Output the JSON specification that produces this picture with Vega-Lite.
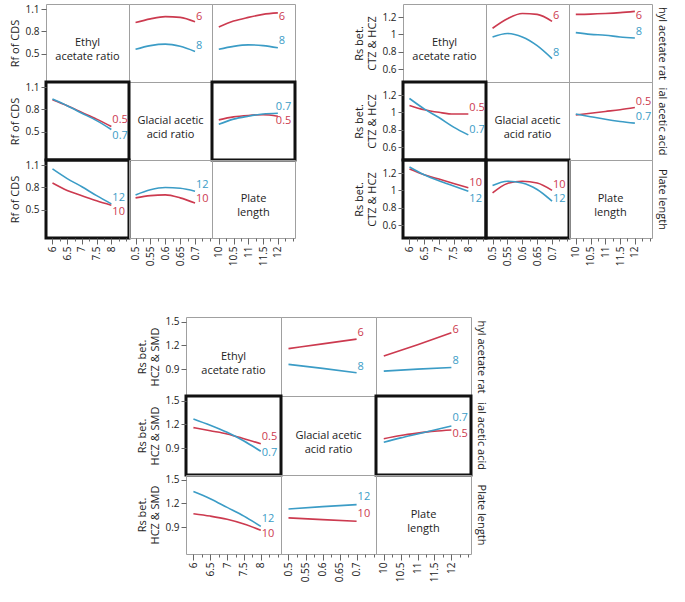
{
"$schema": "https://vega.github.io/schema/vega-lite/v6.json",
"background": "white",
"padding": {"left": 8, "top": 3, "right": 0, "bottom": 0},
"datasets": {
"lines": [
{"m":"A","r":1,"c":2,"lv":"1","x":0.5,"y":0.92},{"m":"A","r":1,"c":2,"lv":"1","x":0.55,"y":0.97},{"m":"A","r":1,"c":2,"lv":"1","x":0.6,"y":1.0},{"m":"A","r":1,"c":2,"lv":"1","x":0.65,"y":0.99},{"m":"A","r":1,"c":2,"lv":"1","x":0.7,"y":0.93},
{"m":"A","r":1,"c":2,"lv":"2","x":0.5,"y":0.56},{"m":"A","r":1,"c":2,"lv":"2","x":0.55,"y":0.61},{"m":"A","r":1,"c":2,"lv":"2","x":0.6,"y":0.63},{"m":"A","r":1,"c":2,"lv":"2","x":0.65,"y":0.6},{"m":"A","r":1,"c":2,"lv":"2","x":0.7,"y":0.53},
{"m":"A","r":1,"c":3,"lv":"1","x":10,"y":0.86},{"m":"A","r":1,"c":3,"lv":"1","x":10.5,"y":0.94},{"m":"A","r":1,"c":3,"lv":"1","x":11,"y":0.99},{"m":"A","r":1,"c":3,"lv":"1","x":11.5,"y":1.03},{"m":"A","r":1,"c":3,"lv":"1","x":12,"y":1.05},
{"m":"A","r":1,"c":3,"lv":"2","x":10,"y":0.56},{"m":"A","r":1,"c":3,"lv":"2","x":10.5,"y":0.6},{"m":"A","r":1,"c":3,"lv":"2","x":11,"y":0.62},{"m":"A","r":1,"c":3,"lv":"2","x":11.5,"y":0.61},{"m":"A","r":1,"c":3,"lv":"2","x":12,"y":0.58},
{"m":"A","r":2,"c":1,"lv":"1","x":6,"y":0.93},{"m":"A","r":2,"c":1,"lv":"1","x":6.5,"y":0.85},{"m":"A","r":2,"c":1,"lv":"1","x":7,"y":0.76},{"m":"A","r":2,"c":1,"lv":"1","x":7.5,"y":0.67},{"m":"A","r":2,"c":1,"lv":"1","x":8,"y":0.57},
{"m":"A","r":2,"c":1,"lv":"2","x":6,"y":0.94},{"m":"A","r":2,"c":1,"lv":"2","x":6.5,"y":0.85},{"m":"A","r":2,"c":1,"lv":"2","x":7,"y":0.75},{"m":"A","r":2,"c":1,"lv":"2","x":7.5,"y":0.65},{"m":"A","r":2,"c":1,"lv":"2","x":8,"y":0.53},
{"m":"A","r":2,"c":3,"lv":"1","x":10,"y":0.66},{"m":"A","r":2,"c":3,"lv":"1","x":10.5,"y":0.7},{"m":"A","r":2,"c":3,"lv":"1","x":11,"y":0.72},{"m":"A","r":2,"c":3,"lv":"1","x":11.5,"y":0.73},{"m":"A","r":2,"c":3,"lv":"1","x":12,"y":0.71},
{"m":"A","r":2,"c":3,"lv":"2","x":10,"y":0.6},{"m":"A","r":2,"c":3,"lv":"2","x":10.5,"y":0.67},{"m":"A","r":2,"c":3,"lv":"2","x":11,"y":0.71},{"m":"A","r":2,"c":3,"lv":"2","x":11.5,"y":0.74},{"m":"A","r":2,"c":3,"lv":"2","x":12,"y":0.75},
{"m":"A","r":3,"c":1,"lv":"1","x":6,"y":0.86},{"m":"A","r":3,"c":1,"lv":"1","x":6.5,"y":0.76},{"m":"A","r":3,"c":1,"lv":"1","x":7,"y":0.69},{"m":"A","r":3,"c":1,"lv":"1","x":7.5,"y":0.62},{"m":"A","r":3,"c":1,"lv":"1","x":8,"y":0.56},
{"m":"A","r":3,"c":1,"lv":"2","x":6,"y":1.05},{"m":"A","r":3,"c":1,"lv":"2","x":6.5,"y":0.92},{"m":"A","r":3,"c":1,"lv":"2","x":7,"y":0.81},{"m":"A","r":3,"c":1,"lv":"2","x":7.5,"y":0.69},{"m":"A","r":3,"c":1,"lv":"2","x":8,"y":0.58},
{"m":"A","r":3,"c":2,"lv":"1","x":0.5,"y":0.66},{"m":"A","r":3,"c":2,"lv":"1","x":0.55,"y":0.69},{"m":"A","r":3,"c":2,"lv":"1","x":0.6,"y":0.7},{"m":"A","r":3,"c":2,"lv":"1","x":0.65,"y":0.66},{"m":"A","r":3,"c":2,"lv":"1","x":0.7,"y":0.59},
{"m":"A","r":3,"c":2,"lv":"2","x":0.5,"y":0.7},{"m":"A","r":3,"c":2,"lv":"2","x":0.55,"y":0.77},{"m":"A","r":3,"c":2,"lv":"2","x":0.6,"y":0.8},{"m":"A","r":3,"c":2,"lv":"2","x":0.65,"y":0.79},{"m":"A","r":3,"c":2,"lv":"2","x":0.7,"y":0.75},
{"m":"B","r":1,"c":2,"lv":"1","x":0.5,"y":1.07},{"m":"B","r":1,"c":2,"lv":"1","x":0.55,"y":1.18},{"m":"B","r":1,"c":2,"lv":"1","x":0.6,"y":1.24},{"m":"B","r":1,"c":2,"lv":"1","x":0.65,"y":1.23},{"m":"B","r":1,"c":2,"lv":"1","x":0.7,"y":1.15},
{"m":"B","r":1,"c":2,"lv":"2","x":0.5,"y":0.97},{"m":"B","r":1,"c":2,"lv":"2","x":0.55,"y":1.01},{"m":"B","r":1,"c":2,"lv":"2","x":0.6,"y":0.97},{"m":"B","r":1,"c":2,"lv":"2","x":0.65,"y":0.87},{"m":"B","r":1,"c":2,"lv":"2","x":0.7,"y":0.72},
{"m":"B","r":1,"c":3,"lv":"1","x":10,"y":1.23},{"m":"B","r":1,"c":3,"lv":"1","x":10.5,"y":1.233},{"m":"B","r":1,"c":3,"lv":"1","x":11,"y":1.24},{"m":"B","r":1,"c":3,"lv":"1","x":11.5,"y":1.25},{"m":"B","r":1,"c":3,"lv":"1","x":12,"y":1.265},
{"m":"B","r":1,"c":3,"lv":"2","x":10,"y":1.02},{"m":"B","r":1,"c":3,"lv":"2","x":10.5,"y":1.0},{"m":"B","r":1,"c":3,"lv":"2","x":11,"y":0.99},{"m":"B","r":1,"c":3,"lv":"2","x":11.5,"y":0.97},{"m":"B","r":1,"c":3,"lv":"2","x":12,"y":0.957},
{"m":"B","r":2,"c":1,"lv":"1","x":6,"y":1.08},{"m":"B","r":2,"c":1,"lv":"1","x":6.5,"y":1.03},{"m":"B","r":2,"c":1,"lv":"1","x":7,"y":1.0},{"m":"B","r":2,"c":1,"lv":"1","x":7.5,"y":0.98},{"m":"B","r":2,"c":1,"lv":"1","x":8,"y":0.98},
{"m":"B","r":2,"c":1,"lv":"2","x":6,"y":1.16},{"m":"B","r":2,"c":1,"lv":"2","x":6.5,"y":1.04},{"m":"B","r":2,"c":1,"lv":"2","x":7,"y":0.94},{"m":"B","r":2,"c":1,"lv":"2","x":7.5,"y":0.83},{"m":"B","r":2,"c":1,"lv":"2","x":8,"y":0.74},
{"m":"B","r":2,"c":3,"lv":"1","x":10,"y":0.97},{"m":"B","r":2,"c":3,"lv":"1","x":10.5,"y":0.99},{"m":"B","r":2,"c":3,"lv":"1","x":11,"y":1.01},{"m":"B","r":2,"c":3,"lv":"1","x":11.5,"y":1.03},{"m":"B","r":2,"c":3,"lv":"1","x":12,"y":1.055},
{"m":"B","r":2,"c":3,"lv":"2","x":10,"y":0.98},{"m":"B","r":2,"c":3,"lv":"2","x":10.5,"y":0.95},{"m":"B","r":2,"c":3,"lv":"2","x":11,"y":0.92},{"m":"B","r":2,"c":3,"lv":"2","x":11.5,"y":0.895},{"m":"B","r":2,"c":3,"lv":"2","x":12,"y":0.875},
{"m":"B","r":3,"c":1,"lv":"1","x":6,"y":1.245},{"m":"B","r":3,"c":1,"lv":"1","x":6.5,"y":1.18},{"m":"B","r":3,"c":1,"lv":"1","x":7,"y":1.13},{"m":"B","r":3,"c":1,"lv":"1","x":7.5,"y":1.08},{"m":"B","r":3,"c":1,"lv":"1","x":8,"y":1.03},
{"m":"B","r":3,"c":1,"lv":"2","x":6,"y":1.27},{"m":"B","r":3,"c":1,"lv":"2","x":6.5,"y":1.18},{"m":"B","r":3,"c":1,"lv":"2","x":7,"y":1.11},{"m":"B","r":3,"c":1,"lv":"2","x":7.5,"y":1.05},{"m":"B","r":3,"c":1,"lv":"2","x":8,"y":0.99},
{"m":"B","r":3,"c":2,"lv":"1","x":0.5,"y":0.97},{"m":"B","r":3,"c":2,"lv":"1","x":0.55,"y":1.08},{"m":"B","r":3,"c":2,"lv":"1","x":0.6,"y":1.105},{"m":"B","r":3,"c":2,"lv":"1","x":0.65,"y":1.085},{"m":"B","r":3,"c":2,"lv":"1","x":0.7,"y":1.0},
{"m":"B","r":3,"c":2,"lv":"2","x":0.5,"y":1.055},{"m":"B","r":3,"c":2,"lv":"2","x":0.55,"y":1.105},{"m":"B","r":3,"c":2,"lv":"2","x":0.6,"y":1.085},{"m":"B","r":3,"c":2,"lv":"2","x":0.65,"y":1.01},{"m":"B","r":3,"c":2,"lv":"2","x":0.7,"y":0.875},
{"m":"C","r":1,"c":2,"lv":"1","x":0.5,"y":1.16},{"m":"C","r":1,"c":2,"lv":"1","x":0.6,"y":1.22},{"m":"C","r":1,"c":2,"lv":"1","x":0.7,"y":1.28},
{"m":"C","r":1,"c":2,"lv":"2","x":0.5,"y":0.96},{"m":"C","r":1,"c":2,"lv":"2","x":0.6,"y":0.91},{"m":"C","r":1,"c":2,"lv":"2","x":0.7,"y":0.855},
{"m":"C","r":1,"c":3,"lv":"1","x":10,"y":1.065},{"m":"C","r":1,"c":3,"lv":"1","x":11,"y":1.21},{"m":"C","r":1,"c":3,"lv":"1","x":12,"y":1.36},
{"m":"C","r":1,"c":3,"lv":"2","x":10,"y":0.875},{"m":"C","r":1,"c":3,"lv":"2","x":11,"y":0.9},{"m":"C","r":1,"c":3,"lv":"2","x":12,"y":0.92},
{"m":"C","r":2,"c":1,"lv":"1","x":6,"y":1.16},{"m":"C","r":2,"c":1,"lv":"1","x":6.5,"y":1.12},{"m":"C","r":2,"c":1,"lv":"1","x":7,"y":1.08},{"m":"C","r":2,"c":1,"lv":"1","x":7.5,"y":1.02},{"m":"C","r":2,"c":1,"lv":"1","x":8,"y":0.955},
{"m":"C","r":2,"c":1,"lv":"2","x":6,"y":1.27},{"m":"C","r":2,"c":1,"lv":"2","x":6.5,"y":1.19},{"m":"C","r":2,"c":1,"lv":"2","x":7,"y":1.1},{"m":"C","r":2,"c":1,"lv":"2","x":7.5,"y":0.99},{"m":"C","r":2,"c":1,"lv":"2","x":8,"y":0.86},
{"m":"C","r":2,"c":3,"lv":"1","x":10,"y":1.02},{"m":"C","r":2,"c":3,"lv":"1","x":10.5,"y":1.06},{"m":"C","r":2,"c":3,"lv":"1","x":11,"y":1.09},{"m":"C","r":2,"c":3,"lv":"1","x":11.5,"y":1.115},{"m":"C","r":2,"c":3,"lv":"1","x":12,"y":1.13},
{"m":"C","r":2,"c":3,"lv":"2","x":10,"y":0.975},{"m":"C","r":2,"c":3,"lv":"2","x":10.5,"y":1.03},{"m":"C","r":2,"c":3,"lv":"2","x":11,"y":1.08},{"m":"C","r":2,"c":3,"lv":"2","x":11.5,"y":1.13},{"m":"C","r":2,"c":3,"lv":"2","x":12,"y":1.18},
{"m":"C","r":3,"c":1,"lv":"1","x":6,"y":1.07},{"m":"C","r":3,"c":1,"lv":"1","x":6.5,"y":1.04},{"m":"C","r":3,"c":1,"lv":"1","x":7,"y":1.0},{"m":"C","r":3,"c":1,"lv":"1","x":7.5,"y":0.94},{"m":"C","r":3,"c":1,"lv":"1","x":8,"y":0.86},
{"m":"C","r":3,"c":1,"lv":"2","x":6,"y":1.35},{"m":"C","r":3,"c":1,"lv":"2","x":6.5,"y":1.26},{"m":"C","r":3,"c":1,"lv":"2","x":7,"y":1.15},{"m":"C","r":3,"c":1,"lv":"2","x":7.5,"y":1.04},{"m":"C","r":3,"c":1,"lv":"2","x":8,"y":0.91},
{"m":"C","r":3,"c":2,"lv":"1","x":0.5,"y":1.017},{"m":"C","r":3,"c":2,"lv":"1","x":0.6,"y":0.995},{"m":"C","r":3,"c":2,"lv":"1","x":0.7,"y":0.975},
{"m":"C","r":3,"c":2,"lv":"2","x":0.5,"y":1.13},{"m":"C","r":3,"c":2,"lv":"2","x":0.6,"y":1.16},{"m":"C","r":3,"c":2,"lv":"2","x":0.7,"y":1.185}
],
"labels": [
{"m":"A","r":1,"c":2,"lv":"1","x":0.7,"y":1.0,"t":"6"},{"m":"A","r":1,"c":2,"lv":"2","x":0.7,"y":0.61,"t":"8"},
{"m":"A","r":1,"c":3,"lv":"1","x":12,"y":1.0,"t":"6"},{"m":"A","r":1,"c":3,"lv":"2","x":12,"y":0.675,"t":"8"},
{"m":"A","r":2,"c":1,"lv":"1","x":8,"y":0.655,"t":"0.5"},{"m":"A","r":2,"c":1,"lv":"2","x":8,"y":0.445,"t":"0.7"},
{"m":"A","r":2,"c":3,"lv":"1","x":12,"y":0.64,"t":"0.5"},{"m":"A","r":2,"c":3,"lv":"2","x":12,"y":0.84,"t":"0.7"},
{"m":"A","r":3,"c":1,"lv":"1","x":8,"y":0.47,"t":"10"},{"m":"A","r":3,"c":1,"lv":"2","x":8,"y":0.665,"t":"12"},
{"m":"A","r":3,"c":2,"lv":"1","x":0.7,"y":0.65,"t":"10"},{"m":"A","r":3,"c":2,"lv":"2","x":0.7,"y":0.84,"t":"12"},
{"m":"B","r":1,"c":2,"lv":"1","x":0.7,"y":1.21,"t":"6"},{"m":"B","r":1,"c":2,"lv":"2","x":0.7,"y":0.79,"t":"8"},
{"m":"B","r":1,"c":3,"lv":"1","x":12,"y":1.21,"t":"6"},{"m":"B","r":1,"c":3,"lv":"2","x":12,"y":1.03,"t":"8"},
{"m":"B","r":2,"c":1,"lv":"1","x":8,"y":1.05,"t":"0.5"},{"m":"B","r":2,"c":1,"lv":"2","x":8,"y":0.8,"t":"0.7"},
{"m":"B","r":2,"c":3,"lv":"1","x":12,"y":1.12,"t":"0.5"},{"m":"B","r":2,"c":3,"lv":"2","x":12,"y":0.95,"t":"0.7"},
{"m":"B","r":3,"c":1,"lv":"1","x":8,"y":1.085,"t":"10"},{"m":"B","r":3,"c":1,"lv":"2","x":8,"y":0.9,"t":"12"},
{"m":"B","r":3,"c":2,"lv":"1","x":0.7,"y":1.06,"t":"10"},{"m":"B","r":3,"c":2,"lv":"2","x":0.7,"y":0.9,"t":"12"},
{"m":"C","r":1,"c":2,"lv":"1","x":0.7,"y":1.36,"t":"6"},{"m":"C","r":1,"c":2,"lv":"2","x":0.7,"y":0.93,"t":"8"},
{"m":"C","r":1,"c":3,"lv":"1","x":12,"y":1.39,"t":"6"},{"m":"C","r":1,"c":3,"lv":"2","x":12,"y":1.0,"t":"8"},
{"m":"C","r":2,"c":1,"lv":"1","x":8,"y":1.04,"t":"0.5"},{"m":"C","r":2,"c":1,"lv":"2","x":8,"y":0.84,"t":"0.7"},
{"m":"C","r":2,"c":3,"lv":"1","x":12,"y":1.08,"t":"0.5"},{"m":"C","r":2,"c":3,"lv":"2","x":12,"y":1.28,"t":"0.7"},
{"m":"C","r":3,"c":1,"lv":"1","x":8,"y":0.81,"t":"10"},{"m":"C","r":3,"c":1,"lv":"2","x":8,"y":1.0,"t":"12"},
{"m":"C","r":3,"c":2,"lv":"1","x":0.7,"y":1.067,"t":"10"},{"m":"C","r":3,"c":2,"lv":"2","x":0.7,"y":1.28,"t":"12"}
],
"diag": [
{"m":"A","k":1,"t":"Ethyl\nacetate ratio"},{"m":"A","k":2,"t":"Glacial acetic\nacid ratio"},{"m":"A","k":3,"t":"Plate\nlength"},
{"m":"B","k":1,"t":"Ethyl\nacetate ratio"},{"m":"B","k":2,"t":"Glacial acetic\nacid ratio"},{"m":"B","k":3,"t":"Plate\nlength"},
{"m":"C","k":1,"t":"Ethyl\nacetate ratio"},{"m":"C","k":2,"t":"Glacial acetic\nacid ratio"},{"m":"C","k":3,"t":"Plate\nlength"}
]
},
"vconcat": [
{"hconcat": [
{"concat": [
{"width":83,"height":78,"layer":[
 {"data":{"name":"diag"},"transform":[{"filter":"datum.m=='A' && datum.k==1"}],"mark":{"type":"text","lineBreak":"\n","lineHeight":14,"fontSize":11,"color":"#222"},"encoding":{"text":{"field":"t"}}},
 {"data":{"name":"diag"},"transform":[{"filter":"datum.m=='A' && datum.k==1"}],"mark":{"type":"point","opacity":0},"encoding":{"y":{"datum":0.8,"type":"quantitative","scale":{"domain":[0.12,1.17],"nice":false,"zero":false},"axis":{"values":[0.5,0.8,1.1],"format":".3~g","title":"Rf of CDS"}}}}
]},
{"width":83,"height":78,"layer":[
 {"data":{"name":"lines"},"transform":[{"filter":"datum.m=='A' && datum.r==1 && datum.c==2"}],"mark":{"type":"line","interpolate":"monotone","strokeWidth":1.6},"encoding":{"x":{"field":"x","type":"quantitative","scale":{"domain":[0.478,0.757],"nice":false,"zero":false},"axis":null},"y":{"field":"y","type":"quantitative","scale":{"domain":[0.12,1.17],"nice":false,"zero":false},"axis":null},"color":{"field":"lv","type":"nominal","scale":{"domain":["1","2"],"range":["#cc3a4f","#3b9cc6"]},"legend":null}}},
 {"data":{"name":"labels"},"transform":[{"filter":"datum.m=='A' && datum.r==1 && datum.c==2"}],"mark":{"type":"text","align":"left","dx":1,"fontSize":11},"encoding":{"x":{"field":"x","type":"quantitative","scale":{"domain":[0.478,0.757],"nice":false,"zero":false},"axis":null},"y":{"field":"y","type":"quantitative","scale":{"domain":[0.12,1.17],"nice":false,"zero":false},"axis":null},"color":{"field":"lv","type":"nominal","scale":{"domain":["1","2"],"range":["#cc3a4f","#3b9cc6"]},"legend":null},"text":{"field":"t"}}}
]},
{"width":83,"height":78,"layer":[
 {"data":{"name":"lines"},"transform":[{"filter":"datum.m=='A' && datum.r==1 && datum.c==3"}],"mark":{"type":"line","interpolate":"monotone","strokeWidth":1.6},"encoding":{"x":{"field":"x","type":"quantitative","scale":{"domain":[9.77,12.58],"nice":false,"zero":false},"axis":null},"y":{"field":"y","type":"quantitative","scale":{"domain":[0.12,1.17],"nice":false,"zero":false},"axis":null},"color":{"field":"lv","type":"nominal","scale":{"domain":["1","2"],"range":["#cc3a4f","#3b9cc6"]},"legend":null}}},
 {"data":{"name":"labels"},"transform":[{"filter":"datum.m=='A' && datum.r==1 && datum.c==3"}],"mark":{"type":"text","align":"left","dx":1,"fontSize":11},"encoding":{"x":{"field":"x","type":"quantitative","scale":{"domain":[9.77,12.58],"nice":false,"zero":false},"axis":null},"y":{"field":"y","type":"quantitative","scale":{"domain":[0.12,1.17],"nice":false,"zero":false},"axis":null},"color":{"field":"lv","type":"nominal","scale":{"domain":["1","2"],"range":["#cc3a4f","#3b9cc6"]},"legend":null},"text":{"field":"t"}}}
]},
{"width":83,"height":78,"view":{"stroke":"#111","strokeWidth":3},"layer":[
 {"data":{"name":"lines"},"transform":[{"filter":"datum.m=='A' && datum.r==2 && datum.c==1"}],"mark":{"type":"line","interpolate":"monotone","strokeWidth":1.6},"encoding":{"x":{"field":"x","type":"quantitative","scale":{"domain":[5.78,8.6],"nice":false,"zero":false},"axis":null},"y":{"field":"y","type":"quantitative","scale":{"domain":[0.12,1.17],"nice":false,"zero":false},"axis":{"values":[0.5,0.8,1.1],"format":".3~g","title":"Rf of CDS"}},"color":{"field":"lv","type":"nominal","scale":{"domain":["1","2"],"range":["#cc3a4f","#3b9cc6"]},"legend":null}}},
 {"data":{"name":"labels"},"transform":[{"filter":"datum.m=='A' && datum.r==2 && datum.c==1"}],"mark":{"type":"text","align":"left","dx":1,"fontSize":11},"encoding":{"x":{"field":"x","type":"quantitative","scale":{"domain":[5.78,8.6],"nice":false,"zero":false},"axis":null},"y":{"field":"y","type":"quantitative","scale":{"domain":[0.12,1.17],"nice":false,"zero":false},"axis":{"values":[0.5,0.8,1.1],"format":".3~g","title":"Rf of CDS"}},"color":{"field":"lv","type":"nominal","scale":{"domain":["1","2"],"range":["#cc3a4f","#3b9cc6"]},"legend":null},"text":{"field":"t"}}}
]},
{"width":83,"height":78,"layer":[
 {"data":{"name":"diag"},"transform":[{"filter":"datum.m=='A' && datum.k==2"}],"mark":{"type":"text","lineBreak":"\n","lineHeight":14,"fontSize":11,"color":"#222"},"encoding":{"text":{"field":"t"}}}
]},
{"width":83,"height":78,"view":{"stroke":"#111","strokeWidth":3},"layer":[
 {"data":{"name":"lines"},"transform":[{"filter":"datum.m=='A' && datum.r==2 && datum.c==3"}],"mark":{"type":"line","interpolate":"monotone","strokeWidth":1.6},"encoding":{"x":{"field":"x","type":"quantitative","scale":{"domain":[9.77,12.58],"nice":false,"zero":false},"axis":null},"y":{"field":"y","type":"quantitative","scale":{"domain":[0.12,1.17],"nice":false,"zero":false},"axis":null},"color":{"field":"lv","type":"nominal","scale":{"domain":["1","2"],"range":["#cc3a4f","#3b9cc6"]},"legend":null}}},
 {"data":{"name":"labels"},"transform":[{"filter":"datum.m=='A' && datum.r==2 && datum.c==3"}],"mark":{"type":"text","align":"left","dx":-2,"fontSize":11},"encoding":{"x":{"field":"x","type":"quantitative","scale":{"domain":[9.77,12.58],"nice":false,"zero":false},"axis":null},"y":{"field":"y","type":"quantitative","scale":{"domain":[0.12,1.17],"nice":false,"zero":false},"axis":null},"color":{"field":"lv","type":"nominal","scale":{"domain":["1","2"],"range":["#cc3a4f","#3b9cc6"]},"legend":null},"text":{"field":"t"}}}
]},
{"width":83,"height":78,"view":{"stroke":"#111","strokeWidth":3},"layer":[
 {"data":{"name":"lines"},"transform":[{"filter":"datum.m=='A' && datum.r==3 && datum.c==1"}],"mark":{"type":"line","interpolate":"monotone","strokeWidth":1.6},"encoding":{"x":{"field":"x","type":"quantitative","scale":{"domain":[5.78,8.6],"nice":false,"zero":false},"axis":{"values":[6,6.25,6.5,6.75,7,7.25,7.5,7.75,8,8.25,8.5],"format":".3~g","labelAngle":270,"title":null,"labelExpr":"datum.value <= 8 && datum.value % 0.5 == 0 ? datum.label : ''","tickSize":{"condition":{"test":"datum.value <= 8 && datum.value % 0.5 == 0","value":6},"value":3}}},"y":{"field":"y","type":"quantitative","scale":{"domain":[0.12,1.17],"nice":false,"zero":false},"axis":{"values":[0.5,0.8,1.1],"format":".3~g","title":"Rf of CDS"}},"color":{"field":"lv","type":"nominal","scale":{"domain":["1","2"],"range":["#cc3a4f","#3b9cc6"]},"legend":null}}},
 {"data":{"name":"labels"},"transform":[{"filter":"datum.m=='A' && datum.r==3 && datum.c==1"}],"mark":{"type":"text","align":"left","dx":1,"fontSize":11},"encoding":{"x":{"field":"x","type":"quantitative","scale":{"domain":[5.78,8.6],"nice":false,"zero":false},"axis":{"values":[6,6.25,6.5,6.75,7,7.25,7.5,7.75,8,8.25,8.5],"format":".3~g","labelAngle":270,"title":null,"labelExpr":"datum.value <= 8 && datum.value % 0.5 == 0 ? datum.label : ''","tickSize":{"condition":{"test":"datum.value <= 8 && datum.value % 0.5 == 0","value":6},"value":3}}},"y":{"field":"y","type":"quantitative","scale":{"domain":[0.12,1.17],"nice":false,"zero":false},"axis":{"values":[0.5,0.8,1.1],"format":".3~g","title":"Rf of CDS"}},"color":{"field":"lv","type":"nominal","scale":{"domain":["1","2"],"range":["#cc3a4f","#3b9cc6"]},"legend":null},"text":{"field":"t"}}}
]},
{"width":83,"height":78,"layer":[
 {"data":{"name":"lines"},"transform":[{"filter":"datum.m=='A' && datum.r==3 && datum.c==2"}],"mark":{"type":"line","interpolate":"monotone","strokeWidth":1.6},"encoding":{"x":{"field":"x","type":"quantitative","scale":{"domain":[0.478,0.757],"nice":false,"zero":false},"axis":{"values":[0.5,0.525,0.55,0.575,0.6,0.625,0.65,0.675,0.7,0.725,0.75],"format":".3~g","labelAngle":270,"title":null,"labelExpr":"datum.value < 0.71 && round(datum.value*1000) % 50 == 0 ? datum.label : ''","tickSize":{"condition":{"test":"datum.value < 0.71 && round(datum.value*1000) % 50 == 0","value":6},"value":3}}},"y":{"field":"y","type":"quantitative","scale":{"domain":[0.12,1.17],"nice":false,"zero":false},"axis":null},"color":{"field":"lv","type":"nominal","scale":{"domain":["1","2"],"range":["#cc3a4f","#3b9cc6"]},"legend":null}}},
 {"data":{"name":"labels"},"transform":[{"filter":"datum.m=='A' && datum.r==3 && datum.c==2"}],"mark":{"type":"text","align":"left","dx":1,"fontSize":11},"encoding":{"x":{"field":"x","type":"quantitative","scale":{"domain":[0.478,0.757],"nice":false,"zero":false},"axis":{"values":[0.5,0.525,0.55,0.575,0.6,0.625,0.65,0.675,0.7,0.725,0.75],"format":".3~g","labelAngle":270,"title":null,"labelExpr":"datum.value < 0.71 && round(datum.value*1000) % 50 == 0 ? datum.label : ''","tickSize":{"condition":{"test":"datum.value < 0.71 && round(datum.value*1000) % 50 == 0","value":6},"value":3}}},"y":{"field":"y","type":"quantitative","scale":{"domain":[0.12,1.17],"nice":false,"zero":false},"axis":null},"color":{"field":"lv","type":"nominal","scale":{"domain":["1","2"],"range":["#cc3a4f","#3b9cc6"]},"legend":null},"text":{"field":"t"}}}
]},
{"width":83,"height":78,"layer":[
 {"data":{"name":"diag"},"transform":[{"filter":"datum.m=='A' && datum.k==3"}],"mark":{"type":"text","lineBreak":"\n","lineHeight":14,"fontSize":11,"color":"#222"},"encoding":{"text":{"field":"t"}}},
 {"data":{"name":"diag"},"transform":[{"filter":"datum.m=='A' && datum.k==3"}],"mark":{"type":"point","opacity":0},"encoding":{"x":{"datum":11,"type":"quantitative","scale":{"domain":[9.77,12.58],"nice":false,"zero":false},"axis":{"values":[10,10.25,10.5,10.75,11,11.25,11.5,11.75,12,12.25,12.5],"format":".3~g","labelAngle":270,"title":null,"labelExpr":"datum.value <= 12 && datum.value % 0.5 == 0 ? datum.label : ''","tickSize":{"condition":{"test":"datum.value <= 12 && datum.value % 0.5 == 0","value":6},"value":3}}},"y":{"datum":0.8,"type":"quantitative","scale":{"domain":[0.12,1.17],"nice":false,"zero":false},"axis":null}}}
]}
], "columns": 3, "spacing": 0, "bounds": "flush"},

{"concat": [
{"width":83,"height":78,"layer":[
 {"data":{"name":"diag"},"transform":[{"filter":"datum.m=='B' && datum.k==1"}],"mark":{"type":"text","lineBreak":"\n","lineHeight":14,"fontSize":11,"color":"#222"},"encoding":{"text":{"field":"t"}}},
 {"data":{"name":"diag"},"transform":[{"filter":"datum.m=='B' && datum.k==1"}],"mark":{"type":"point","opacity":0},"encoding":{"y":{"datum":0.8,"type":"quantitative","scale":{"domain":[0.45,1.35],"nice":false,"zero":false},"axis":{"values":[0.6,0.8,1,1.2],"format":".3~g","title":["Rs bet.","CTZ & HCZ"]}}}}
]},
{"width":83,"height":78,"layer":[
 {"data":{"name":"lines"},"transform":[{"filter":"datum.m=='B' && datum.r==1 && datum.c==2"}],"mark":{"type":"line","interpolate":"monotone","strokeWidth":1.6},"encoding":{"x":{"field":"x","type":"quantitative","scale":{"domain":[0.478,0.757],"nice":false,"zero":false},"axis":null},"y":{"field":"y","type":"quantitative","scale":{"domain":[0.45,1.35],"nice":false,"zero":false},"axis":null},"color":{"field":"lv","type":"nominal","scale":{"domain":["1","2"],"range":["#cc3a4f","#3b9cc6"]},"legend":null}}},
 {"data":{"name":"labels"},"transform":[{"filter":"datum.m=='B' && datum.r==1 && datum.c==2"}],"mark":{"type":"text","align":"left","dx":1,"fontSize":11},"encoding":{"x":{"field":"x","type":"quantitative","scale":{"domain":[0.478,0.757],"nice":false,"zero":false},"axis":null},"y":{"field":"y","type":"quantitative","scale":{"domain":[0.45,1.35],"nice":false,"zero":false},"axis":null},"color":{"field":"lv","type":"nominal","scale":{"domain":["1","2"],"range":["#cc3a4f","#3b9cc6"]},"legend":null},"text":{"field":"t"}}}
]},
{"width":83,"height":78,"layer":[
 {"data":{"name":"lines"},"transform":[{"filter":"datum.m=='B' && datum.r==1 && datum.c==3"}],"mark":{"type":"line","interpolate":"monotone","strokeWidth":1.6},"encoding":{"x":{"field":"x","type":"quantitative","scale":{"domain":[9.77,12.58],"nice":false,"zero":false},"axis":null},"y":{"field":"y","type":"quantitative","scale":{"domain":[0.45,1.35],"nice":false,"zero":false},"axis":{"orient":"right","labels":false,"ticks":false,"title":"hyl acetate rat"}},"color":{"field":"lv","type":"nominal","scale":{"domain":["1","2"],"range":["#cc3a4f","#3b9cc6"]},"legend":null}}},
 {"data":{"name":"labels"},"transform":[{"filter":"datum.m=='B' && datum.r==1 && datum.c==3"}],"mark":{"type":"text","align":"left","dx":1,"fontSize":11},"encoding":{"x":{"field":"x","type":"quantitative","scale":{"domain":[9.77,12.58],"nice":false,"zero":false},"axis":null},"y":{"field":"y","type":"quantitative","scale":{"domain":[0.45,1.35],"nice":false,"zero":false},"axis":{"orient":"right","labels":false,"ticks":false,"title":"hyl acetate rat"}},"color":{"field":"lv","type":"nominal","scale":{"domain":["1","2"],"range":["#cc3a4f","#3b9cc6"]},"legend":null},"text":{"field":"t"}}}
]},
{"width":83,"height":78,"view":{"stroke":"#111","strokeWidth":3},"layer":[
 {"data":{"name":"lines"},"transform":[{"filter":"datum.m=='B' && datum.r==2 && datum.c==1"}],"mark":{"type":"line","interpolate":"monotone","strokeWidth":1.6},"encoding":{"x":{"field":"x","type":"quantitative","scale":{"domain":[5.78,8.6],"nice":false,"zero":false},"axis":null},"y":{"field":"y","type":"quantitative","scale":{"domain":[0.45,1.35],"nice":false,"zero":false},"axis":{"values":[0.6,0.8,1,1.2],"format":".3~g","title":["Rs bet.","CTZ & HCZ"]}},"color":{"field":"lv","type":"nominal","scale":{"domain":["1","2"],"range":["#cc3a4f","#3b9cc6"]},"legend":null}}},
 {"data":{"name":"labels"},"transform":[{"filter":"datum.m=='B' && datum.r==2 && datum.c==1"}],"mark":{"type":"text","align":"left","dx":1,"fontSize":11},"encoding":{"x":{"field":"x","type":"quantitative","scale":{"domain":[5.78,8.6],"nice":false,"zero":false},"axis":null},"y":{"field":"y","type":"quantitative","scale":{"domain":[0.45,1.35],"nice":false,"zero":false},"axis":{"values":[0.6,0.8,1,1.2],"format":".3~g","title":["Rs bet.","CTZ & HCZ"]}},"color":{"field":"lv","type":"nominal","scale":{"domain":["1","2"],"range":["#cc3a4f","#3b9cc6"]},"legend":null},"text":{"field":"t"}}}
]},
{"width":83,"height":78,"layer":[
 {"data":{"name":"diag"},"transform":[{"filter":"datum.m=='B' && datum.k==2"}],"mark":{"type":"text","lineBreak":"\n","lineHeight":14,"fontSize":11,"color":"#222"},"encoding":{"text":{"field":"t"}}}
]},
{"width":83,"height":78,"layer":[
 {"data":{"name":"lines"},"transform":[{"filter":"datum.m=='B' && datum.r==2 && datum.c==3"}],"mark":{"type":"line","interpolate":"monotone","strokeWidth":1.6},"encoding":{"x":{"field":"x","type":"quantitative","scale":{"domain":[9.77,12.58],"nice":false,"zero":false},"axis":null},"y":{"field":"y","type":"quantitative","scale":{"domain":[0.45,1.35],"nice":false,"zero":false},"axis":{"orient":"right","labels":false,"ticks":false,"title":"ial acetic acid"}},"color":{"field":"lv","type":"nominal","scale":{"domain":["1","2"],"range":["#cc3a4f","#3b9cc6"]},"legend":null}}},
 {"data":{"name":"labels"},"transform":[{"filter":"datum.m=='B' && datum.r==2 && datum.c==3"}],"mark":{"type":"text","align":"left","dx":1,"fontSize":11},"encoding":{"x":{"field":"x","type":"quantitative","scale":{"domain":[9.77,12.58],"nice":false,"zero":false},"axis":null},"y":{"field":"y","type":"quantitative","scale":{"domain":[0.45,1.35],"nice":false,"zero":false},"axis":{"orient":"right","labels":false,"ticks":false,"title":"ial acetic acid"}},"color":{"field":"lv","type":"nominal","scale":{"domain":["1","2"],"range":["#cc3a4f","#3b9cc6"]},"legend":null},"text":{"field":"t"}}}
]},
{"width":83,"height":78,"view":{"stroke":"#111","strokeWidth":3},"layer":[
 {"data":{"name":"lines"},"transform":[{"filter":"datum.m=='B' && datum.r==3 && datum.c==1"}],"mark":{"type":"line","interpolate":"monotone","strokeWidth":1.6},"encoding":{"x":{"field":"x","type":"quantitative","scale":{"domain":[5.78,8.6],"nice":false,"zero":false},"axis":{"values":[6,6.25,6.5,6.75,7,7.25,7.5,7.75,8,8.25,8.5],"format":".3~g","labelAngle":270,"title":null,"labelExpr":"datum.value <= 8 && datum.value % 0.5 == 0 ? datum.label : ''","tickSize":{"condition":{"test":"datum.value <= 8 && datum.value % 0.5 == 0","value":6},"value":3}}},"y":{"field":"y","type":"quantitative","scale":{"domain":[0.45,1.35],"nice":false,"zero":false},"axis":{"values":[0.6,0.8,1,1.2],"format":".3~g","title":["Rs bet.","CTZ & HCZ"]}},"color":{"field":"lv","type":"nominal","scale":{"domain":["1","2"],"range":["#cc3a4f","#3b9cc6"]},"legend":null}}},
 {"data":{"name":"labels"},"transform":[{"filter":"datum.m=='B' && datum.r==3 && datum.c==1"}],"mark":{"type":"text","align":"left","dx":1,"fontSize":11},"encoding":{"x":{"field":"x","type":"quantitative","scale":{"domain":[5.78,8.6],"nice":false,"zero":false},"axis":{"values":[6,6.25,6.5,6.75,7,7.25,7.5,7.75,8,8.25,8.5],"format":".3~g","labelAngle":270,"title":null,"labelExpr":"datum.value <= 8 && datum.value % 0.5 == 0 ? datum.label : ''","tickSize":{"condition":{"test":"datum.value <= 8 && datum.value % 0.5 == 0","value":6},"value":3}}},"y":{"field":"y","type":"quantitative","scale":{"domain":[0.45,1.35],"nice":false,"zero":false},"axis":{"values":[0.6,0.8,1,1.2],"format":".3~g","title":["Rs bet.","CTZ & HCZ"]}},"color":{"field":"lv","type":"nominal","scale":{"domain":["1","2"],"range":["#cc3a4f","#3b9cc6"]},"legend":null},"text":{"field":"t"}}}
]},
{"width":83,"height":78,"view":{"stroke":"#111","strokeWidth":3},"layer":[
 {"data":{"name":"lines"},"transform":[{"filter":"datum.m=='B' && datum.r==3 && datum.c==2"}],"mark":{"type":"line","interpolate":"monotone","strokeWidth":1.6},"encoding":{"x":{"field":"x","type":"quantitative","scale":{"domain":[0.478,0.757],"nice":false,"zero":false},"axis":{"values":[0.5,0.525,0.55,0.575,0.6,0.625,0.65,0.675,0.7,0.725,0.75],"format":".3~g","labelAngle":270,"title":null,"labelExpr":"datum.value < 0.71 && round(datum.value*1000) % 50 == 0 ? datum.label : ''","tickSize":{"condition":{"test":"datum.value < 0.71 && round(datum.value*1000) % 50 == 0","value":6},"value":3}}},"y":{"field":"y","type":"quantitative","scale":{"domain":[0.45,1.35],"nice":false,"zero":false},"axis":null},"color":{"field":"lv","type":"nominal","scale":{"domain":["1","2"],"range":["#cc3a4f","#3b9cc6"]},"legend":null}}},
 {"data":{"name":"labels"},"transform":[{"filter":"datum.m=='B' && datum.r==3 && datum.c==2"}],"mark":{"type":"text","align":"left","dx":1,"fontSize":11},"encoding":{"x":{"field":"x","type":"quantitative","scale":{"domain":[0.478,0.757],"nice":false,"zero":false},"axis":{"values":[0.5,0.525,0.55,0.575,0.6,0.625,0.65,0.675,0.7,0.725,0.75],"format":".3~g","labelAngle":270,"title":null,"labelExpr":"datum.value < 0.71 && round(datum.value*1000) % 50 == 0 ? datum.label : ''","tickSize":{"condition":{"test":"datum.value < 0.71 && round(datum.value*1000) % 50 == 0","value":6},"value":3}}},"y":{"field":"y","type":"quantitative","scale":{"domain":[0.45,1.35],"nice":false,"zero":false},"axis":null},"color":{"field":"lv","type":"nominal","scale":{"domain":["1","2"],"range":["#cc3a4f","#3b9cc6"]},"legend":null},"text":{"field":"t"}}}
]},
{"width":83,"height":78,"layer":[
 {"data":{"name":"diag"},"transform":[{"filter":"datum.m=='B' && datum.k==3"}],"mark":{"type":"text","lineBreak":"\n","lineHeight":14,"fontSize":11,"color":"#222"},"encoding":{"text":{"field":"t"}}},
 {"data":{"name":"diag"},"transform":[{"filter":"datum.m=='B' && datum.k==3"}],"mark":{"type":"point","opacity":0},"encoding":{"x":{"datum":11,"type":"quantitative","scale":{"domain":[9.77,12.58],"nice":false,"zero":false},"axis":{"values":[10,10.25,10.5,10.75,11,11.25,11.5,11.75,12,12.25,12.5],"format":".3~g","labelAngle":270,"title":null,"labelExpr":"datum.value <= 12 && datum.value % 0.5 == 0 ? datum.label : ''","tickSize":{"condition":{"test":"datum.value <= 12 && datum.value % 0.5 == 0","value":6},"value":3}}},"y":{"datum":0.8,"type":"quantitative","scale":{"domain":[0.45,1.35],"nice":false,"zero":false},"axis":{"orient":"right","labels":false,"ticks":false,"title":"Plate length"}}}}
]}
], "columns": 3, "spacing": 0, "bounds": "flush"}
], "spacing": 55},

{"hconcat": [
{"width":89,"height":10,"data":{"values":[]},"mark":"point","view":{"stroke":null}},
{"concat": [
{"width":95,"height":79,"layer":[
 {"data":{"name":"diag"},"transform":[{"filter":"datum.m=='C' && datum.k==1"}],"mark":{"type":"text","lineBreak":"\n","lineHeight":14,"fontSize":11,"color":"#222"},"encoding":{"text":{"field":"t"}}},
 {"data":{"name":"diag"},"transform":[{"filter":"datum.m=='C' && datum.k==1"}],"mark":{"type":"point","opacity":0},"encoding":{"y":{"datum":1.0,"type":"quantitative","scale":{"domain":[0.56,1.56],"nice":false,"zero":false},"axis":{"values":[0.9,1.2,1.5],"format":".3~g","title":["Rs bet.","HCZ & SMD"]}}}}
]},
{"width":95,"height":79,"layer":[
 {"data":{"name":"lines"},"transform":[{"filter":"datum.m=='C' && datum.r==1 && datum.c==2"}],"mark":{"type":"line","interpolate":"monotone","strokeWidth":1.6},"encoding":{"x":{"field":"x","type":"quantitative","scale":{"domain":[0.478,0.757],"nice":false,"zero":false},"axis":null},"y":{"field":"y","type":"quantitative","scale":{"domain":[0.56,1.56],"nice":false,"zero":false},"axis":null},"color":{"field":"lv","type":"nominal","scale":{"domain":["1","2"],"range":["#cc3a4f","#3b9cc6"]},"legend":null}}},
 {"data":{"name":"labels"},"transform":[{"filter":"datum.m=='C' && datum.r==1 && datum.c==2"}],"mark":{"type":"text","align":"left","dx":1,"fontSize":11},"encoding":{"x":{"field":"x","type":"quantitative","scale":{"domain":[0.478,0.757],"nice":false,"zero":false},"axis":null},"y":{"field":"y","type":"quantitative","scale":{"domain":[0.56,1.56],"nice":false,"zero":false},"axis":null},"color":{"field":"lv","type":"nominal","scale":{"domain":["1","2"],"range":["#cc3a4f","#3b9cc6"]},"legend":null},"text":{"field":"t"}}}
]},
{"width":95,"height":79,"layer":[
 {"data":{"name":"lines"},"transform":[{"filter":"datum.m=='C' && datum.r==1 && datum.c==3"}],"mark":{"type":"line","interpolate":"monotone","strokeWidth":1.6},"encoding":{"x":{"field":"x","type":"quantitative","scale":{"domain":[9.77,12.58],"nice":false,"zero":false},"axis":null},"y":{"field":"y","type":"quantitative","scale":{"domain":[0.56,1.56],"nice":false,"zero":false},"axis":{"orient":"right","labels":false,"ticks":false,"title":"hyl acetate rat"}},"color":{"field":"lv","type":"nominal","scale":{"domain":["1","2"],"range":["#cc3a4f","#3b9cc6"]},"legend":null}}},
 {"data":{"name":"labels"},"transform":[{"filter":"datum.m=='C' && datum.r==1 && datum.c==3"}],"mark":{"type":"text","align":"left","dx":1,"fontSize":11},"encoding":{"x":{"field":"x","type":"quantitative","scale":{"domain":[9.77,12.58],"nice":false,"zero":false},"axis":null},"y":{"field":"y","type":"quantitative","scale":{"domain":[0.56,1.56],"nice":false,"zero":false},"axis":{"orient":"right","labels":false,"ticks":false,"title":"hyl acetate rat"}},"color":{"field":"lv","type":"nominal","scale":{"domain":["1","2"],"range":["#cc3a4f","#3b9cc6"]},"legend":null},"text":{"field":"t"}}}
]},
{"width":95,"height":79,"view":{"stroke":"#111","strokeWidth":3},"layer":[
 {"data":{"name":"lines"},"transform":[{"filter":"datum.m=='C' && datum.r==2 && datum.c==1"}],"mark":{"type":"line","interpolate":"monotone","strokeWidth":1.6},"encoding":{"x":{"field":"x","type":"quantitative","scale":{"domain":[5.78,8.6],"nice":false,"zero":false},"axis":null},"y":{"field":"y","type":"quantitative","scale":{"domain":[0.56,1.56],"nice":false,"zero":false},"axis":{"values":[0.9,1.2,1.5],"format":".3~g","title":["Rs bet.","HCZ & SMD"]}},"color":{"field":"lv","type":"nominal","scale":{"domain":["1","2"],"range":["#cc3a4f","#3b9cc6"]},"legend":null}}},
 {"data":{"name":"labels"},"transform":[{"filter":"datum.m=='C' && datum.r==2 && datum.c==1"}],"mark":{"type":"text","align":"left","dx":1,"fontSize":11},"encoding":{"x":{"field":"x","type":"quantitative","scale":{"domain":[5.78,8.6],"nice":false,"zero":false},"axis":null},"y":{"field":"y","type":"quantitative","scale":{"domain":[0.56,1.56],"nice":false,"zero":false},"axis":{"values":[0.9,1.2,1.5],"format":".3~g","title":["Rs bet.","HCZ & SMD"]}},"color":{"field":"lv","type":"nominal","scale":{"domain":["1","2"],"range":["#cc3a4f","#3b9cc6"]},"legend":null},"text":{"field":"t"}}}
]},
{"width":95,"height":79,"layer":[
 {"data":{"name":"diag"},"transform":[{"filter":"datum.m=='C' && datum.k==2"}],"mark":{"type":"text","lineBreak":"\n","lineHeight":14,"fontSize":11,"color":"#222"},"encoding":{"text":{"field":"t"}}}
]},
{"width":95,"height":79,"view":{"stroke":"#111","strokeWidth":3},"layer":[
 {"data":{"name":"lines"},"transform":[{"filter":"datum.m=='C' && datum.r==2 && datum.c==3"}],"mark":{"type":"line","interpolate":"monotone","strokeWidth":1.6},"encoding":{"x":{"field":"x","type":"quantitative","scale":{"domain":[9.77,12.58],"nice":false,"zero":false},"axis":null},"y":{"field":"y","type":"quantitative","scale":{"domain":[0.56,1.56],"nice":false,"zero":false},"axis":{"orient":"right","labels":false,"ticks":false,"title":"ial acetic acid"}},"color":{"field":"lv","type":"nominal","scale":{"domain":["1","2"],"range":["#cc3a4f","#3b9cc6"]},"legend":null}}},
 {"data":{"name":"labels"},"transform":[{"filter":"datum.m=='C' && datum.r==2 && datum.c==3"}],"mark":{"type":"text","align":"left","dx":1,"fontSize":11},"encoding":{"x":{"field":"x","type":"quantitative","scale":{"domain":[9.77,12.58],"nice":false,"zero":false},"axis":null},"y":{"field":"y","type":"quantitative","scale":{"domain":[0.56,1.56],"nice":false,"zero":false},"axis":{"orient":"right","labels":false,"ticks":false,"title":"ial acetic acid"}},"color":{"field":"lv","type":"nominal","scale":{"domain":["1","2"],"range":["#cc3a4f","#3b9cc6"]},"legend":null},"text":{"field":"t"}}}
]},
{"width":95,"height":79,"layer":[
 {"data":{"name":"lines"},"transform":[{"filter":"datum.m=='C' && datum.r==3 && datum.c==1"}],"mark":{"type":"line","interpolate":"monotone","strokeWidth":1.6},"encoding":{"x":{"field":"x","type":"quantitative","scale":{"domain":[5.78,8.6],"nice":false,"zero":false},"axis":{"values":[6,6.25,6.5,6.75,7,7.25,7.5,7.75,8,8.25,8.5],"format":".3~g","labelAngle":270,"title":null,"labelExpr":"datum.value <= 8 && datum.value % 0.5 == 0 ? datum.label : ''","tickSize":{"condition":{"test":"datum.value <= 8 && datum.value % 0.5 == 0","value":6},"value":3}}},"y":{"field":"y","type":"quantitative","scale":{"domain":[0.56,1.56],"nice":false,"zero":false},"axis":{"values":[0.9,1.2,1.5],"format":".3~g","title":["Rs bet.","HCZ & SMD"]}},"color":{"field":"lv","type":"nominal","scale":{"domain":["1","2"],"range":["#cc3a4f","#3b9cc6"]},"legend":null}}},
 {"data":{"name":"labels"},"transform":[{"filter":"datum.m=='C' && datum.r==3 && datum.c==1"}],"mark":{"type":"text","align":"left","dx":1,"fontSize":11},"encoding":{"x":{"field":"x","type":"quantitative","scale":{"domain":[5.78,8.6],"nice":false,"zero":false},"axis":{"values":[6,6.25,6.5,6.75,7,7.25,7.5,7.75,8,8.25,8.5],"format":".3~g","labelAngle":270,"title":null,"labelExpr":"datum.value <= 8 && datum.value % 0.5 == 0 ? datum.label : ''","tickSize":{"condition":{"test":"datum.value <= 8 && datum.value % 0.5 == 0","value":6},"value":3}}},"y":{"field":"y","type":"quantitative","scale":{"domain":[0.56,1.56],"nice":false,"zero":false},"axis":{"values":[0.9,1.2,1.5],"format":".3~g","title":["Rs bet.","HCZ & SMD"]}},"color":{"field":"lv","type":"nominal","scale":{"domain":["1","2"],"range":["#cc3a4f","#3b9cc6"]},"legend":null},"text":{"field":"t"}}}
]},
{"width":95,"height":79,"layer":[
 {"data":{"name":"lines"},"transform":[{"filter":"datum.m=='C' && datum.r==3 && datum.c==2"}],"mark":{"type":"line","interpolate":"monotone","strokeWidth":1.6},"encoding":{"x":{"field":"x","type":"quantitative","scale":{"domain":[0.478,0.757],"nice":false,"zero":false},"axis":{"values":[0.5,0.525,0.55,0.575,0.6,0.625,0.65,0.675,0.7,0.725,0.75],"format":".3~g","labelAngle":270,"title":null,"labelExpr":"datum.value < 0.71 && round(datum.value*1000) % 50 == 0 ? datum.label : ''","tickSize":{"condition":{"test":"datum.value < 0.71 && round(datum.value*1000) % 50 == 0","value":6},"value":3}}},"y":{"field":"y","type":"quantitative","scale":{"domain":[0.56,1.56],"nice":false,"zero":false},"axis":null},"color":{"field":"lv","type":"nominal","scale":{"domain":["1","2"],"range":["#cc3a4f","#3b9cc6"]},"legend":null}}},
 {"data":{"name":"labels"},"transform":[{"filter":"datum.m=='C' && datum.r==3 && datum.c==2"}],"mark":{"type":"text","align":"left","dx":1,"fontSize":11},"encoding":{"x":{"field":"x","type":"quantitative","scale":{"domain":[0.478,0.757],"nice":false,"zero":false},"axis":{"values":[0.5,0.525,0.55,0.575,0.6,0.625,0.65,0.675,0.7,0.725,0.75],"format":".3~g","labelAngle":270,"title":null,"labelExpr":"datum.value < 0.71 && round(datum.value*1000) % 50 == 0 ? datum.label : ''","tickSize":{"condition":{"test":"datum.value < 0.71 && round(datum.value*1000) % 50 == 0","value":6},"value":3}}},"y":{"field":"y","type":"quantitative","scale":{"domain":[0.56,1.56],"nice":false,"zero":false},"axis":null},"color":{"field":"lv","type":"nominal","scale":{"domain":["1","2"],"range":["#cc3a4f","#3b9cc6"]},"legend":null},"text":{"field":"t"}}}
]},
{"width":95,"height":79,"layer":[
 {"data":{"name":"diag"},"transform":[{"filter":"datum.m=='C' && datum.k==3"}],"mark":{"type":"text","lineBreak":"\n","lineHeight":14,"fontSize":11,"color":"#222"},"encoding":{"text":{"field":"t"}}},
 {"data":{"name":"diag"},"transform":[{"filter":"datum.m=='C' && datum.k==3"}],"mark":{"type":"point","opacity":0},"encoding":{"x":{"datum":11,"type":"quantitative","scale":{"domain":[9.77,12.58],"nice":false,"zero":false},"axis":{"values":[10,10.25,10.5,10.75,11,11.25,11.5,11.75,12,12.25,12.5],"format":".3~g","labelAngle":270,"title":null,"labelExpr":"datum.value <= 12 && datum.value % 0.5 == 0 ? datum.label : ''","tickSize":{"condition":{"test":"datum.value <= 12 && datum.value % 0.5 == 0","value":6},"value":3}}},"y":{"datum":1.0,"type":"quantitative","scale":{"domain":[0.56,1.56],"nice":false,"zero":false},"axis":{"orient":"right","labels":false,"ticks":false,"title":"Plate length"}}}}
]}
], "columns": 3, "spacing": 0, "bounds": "flush"}
], "spacing": 0}
],
"spacing": 48,
"config": {
 "font": "Open Sans",
 "view": {"stroke": "#a0a0a0", "strokeWidth": 1},
 "axis": {"grid": false, "domain": false, "labelFont": "Open Sans", "labelFontSize": 10, "labelColor": "#222", "tickColor": "#666", "tickSize": 5, "labelPadding": 2, "titleFont": "Open Sans", "titleFontSize": 11, "titleFontWeight": "normal", "titleColor": "#222", "titlePadding": 4},
 "text": {"font": "Open Sans"}
}
}
